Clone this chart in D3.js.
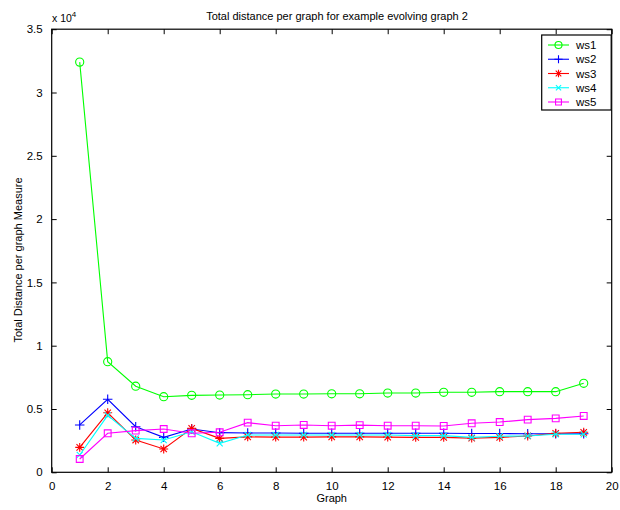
<!DOCTYPE html>
<html><head><meta charset="utf-8">
<script src="https://cdn.jsdelivr.net/npm/d3@7"></script>
<style>
body{margin:0;background:#fff;}
svg text{font-family:"Liberation Sans",Arial,Helvetica,sans-serif;}
</style></head>
<body><svg id="c" width="620" height="510"></svg>
<script>
const graphs = d3.range(1, 20);
const ws1 = [32400, 8740, 6800, 5970, 6080, 6100, 6130, 6180, 6180, 6200, 6200, 6260, 6260, 6320, 6320, 6370, 6370, 6370, 7030];
const ws2 = [3740, 5770, 3600, 2760, 3420, 3130, 3100, 3100, 3080, 3080, 3080, 3080, 3080, 3080, 3060, 3060, 3050, 3050, 3050];
const ws3 = [1970, 4700, 2550, 1840, 3470, 2680, 2800, 2780, 2780, 2800, 2800, 2780, 2760, 2760, 2700, 2760, 2870, 3080, 3160];
const ws4 = [1370, 4500, 2680, 2550, 3200, 2290, 2950, 2950, 2950, 2950, 2950, 2950, 2900, 2900, 2760, 2850, 2870, 3000, 3000];
const ws5 = [1050, 3080, 3290, 3420, 3080, 3160, 3920, 3680, 3740, 3680, 3730, 3680, 3680, 3660, 3870, 3970, 4160, 4260, 4450];
const seriesNames = ["ws1", "ws2", "ws3", "ws4", "ws5"];
const seriesColors = ["#00ff00", "#0000ff", "#ff0000", "#00ffff", "#ff00ff"];
const seriesMarkers = ["circle", "plus", "star", "x", "square"];
const xTicks = d3.range(0, 21, 2);
const yTicks = d3.range(0, 35001, 5000);
const titleText = "Total distance per graph for example evolving graph 2";
const xLabel = "Graph";
const yLabel = "Total Distance per graph Measure";

const seriesData = [ws1, ws2, ws3, ws4, ws5];
const svg = d3.select("#c");
const L = 51.7, R = 611.7, T = 29.2, B = 472.3;
const x = d3.scaleLinear().domain([0, 20]).range([L, R]);
const y = d3.scaleLinear().domain([0, 35000]).range([B, T]);

// marker symbol types
const sym = {
  circle: {draw(c, s){ const r = Math.sqrt(s / Math.PI); c.moveTo(r, 0); c.arc(0, 0, r, 0, 2*Math.PI); }},
  square: {draw(c, s){ const h = Math.sqrt(s)/2; c.moveTo(-h,-h); c.lineTo(h,-h); c.lineTo(h,h); c.lineTo(-h,h); c.closePath(); }},
  plus: {draw(c, s){ const h = Math.sqrt(s)/2; c.moveTo(-h,0); c.lineTo(h,0); c.moveTo(0,-h); c.lineTo(0,h); }},
  x: {draw(c, s){ const h = Math.sqrt(s)/2*0.75; c.moveTo(-h,-h); c.lineTo(h,h); c.moveTo(-h,h); c.lineTo(h,-h); }},
  star: {draw(c, s){ const h = Math.sqrt(s)/2; const d = h*0.72; c.moveTo(-h,0); c.lineTo(h,0); c.moveTo(0,-h); c.lineTo(0,h); c.moveTo(-d,-d); c.lineTo(d,d); c.moveTo(-d,d); c.lineTo(d,-d); }}
};
const symSize = {circle: 52, square: 46, plus: 90, x: 64, star: 80};

// axes box
const g = svg.append("g");
g.append("rect").attr("x", L).attr("y", T).attr("width", R-L).attr("height", B-T)
  .attr("fill", "#fff").attr("stroke", "#000").attr("stroke-width", 1.2);

const fmtY = d => d === 0 ? "0" : d3.format("")(d/10000);
const axB = d3.axisBottom(x).tickValues(xTicks).tickSize(-5).tickPadding(10);
const axT = d3.axisTop(x).tickValues(xTicks).tickSize(-5).tickFormat("");
const axL = d3.axisLeft(y).tickValues(yTicks).tickSize(-5).tickPadding(9).tickFormat(fmtY);
const axR = d3.axisRight(y).tickValues(yTicks).tickSize(-5).tickFormat("");
function styleAx(sel){
  sel.select(".domain").remove();
  sel.selectAll("line").attr("stroke", "#000");
  sel.selectAll("text").attr("font-size", 11.5).attr("fill", "#000");
}
g.append("g").attr("transform", `translate(0,${B})`).call(axB).call(styleAx);
g.append("g").attr("transform", `translate(0,${T})`).call(axT).call(styleAx);
g.append("g").attr("transform", `translate(${L},0)`).call(axL).call(styleAx);
g.append("g").attr("transform", `translate(${R},0)`).call(axR).call(styleAx);

// exponent label
const ex = svg.append("text").attr("x", 52).attr("y", 22).attr("font-size", 10.5).attr("fill", "#000");
ex.append("tspan").text("x 10");
ex.append("tspan").attr("dy", -5).attr("font-size", 8).text("4");

// title and labels
svg.append("text").attr("x", 337).attr("y", 20).attr("text-anchor", "middle")
  .attr("font-size", 11).attr("fill", "#000").text(titleText);
svg.append("text").attr("x", 331.7).attr("y", 502).attr("text-anchor", "middle")
  .attr("font-size", 11).attr("fill", "#000").text(xLabel);
svg.append("text").attr("transform", "translate(22,260) rotate(-90)").attr("text-anchor", "middle")
  .attr("font-size", 11).attr("fill", "#000").text(yLabel);

// series
const line = d3.line().x((d, i) => x(graphs[i])).y(d => y(d));
seriesData.forEach((vals, k) => {
  const col = seriesColors[k];
  const sg = svg.append("g");
  sg.append("path").datum(vals).attr("d", line).attr("fill", "none")
    .attr("stroke", col).attr("stroke-width", 1.1);
  const m = seriesMarkers[k];
  sg.selectAll("path.m").data(vals).join("path").attr("class", "m")
    .attr("transform", (d, i) => `translate(${x(graphs[i])},${y(d)})`)
    .attr("d", d3.symbol().type(sym[m]).size(symSize[m]))
    .attr("fill", "none").attr("stroke", col).attr("stroke-width", 1.1);
});

// legend
const lg = svg.append("g");
const lx = 541.7, ly = 35, lw = 69.5, lh = 75;
lg.append("rect").attr("x", lx).attr("y", ly).attr("width", lw).attr("height", lh)
  .attr("fill", "#fff").attr("stroke", "#000").attr("stroke-width", 1.2);
const rowY = d3.scalePoint().domain(seriesNames).range([45, 102]);
seriesNames.forEach((n, k) => {
  const yy = rowY(n), col = seriesColors[k], m = seriesMarkers[k];
  lg.append("line").attr("x1", 548).attr("x2", 569).attr("y1", yy).attr("y2", yy)
    .attr("stroke", col).attr("stroke-width", 1.1);
  lg.append("path").attr("transform", `translate(558.5,${yy})`)
    .attr("d", d3.symbol().type(sym[m]).size(symSize[m] * 0.75))
    .attr("fill", "none").attr("stroke", col).attr("stroke-width", 1.1);
  lg.append("text").attr("x", 576).attr("y", yy + 4).attr("font-size", 11.5).attr("fill", "#000").text(n);
});
</script></body></html>
